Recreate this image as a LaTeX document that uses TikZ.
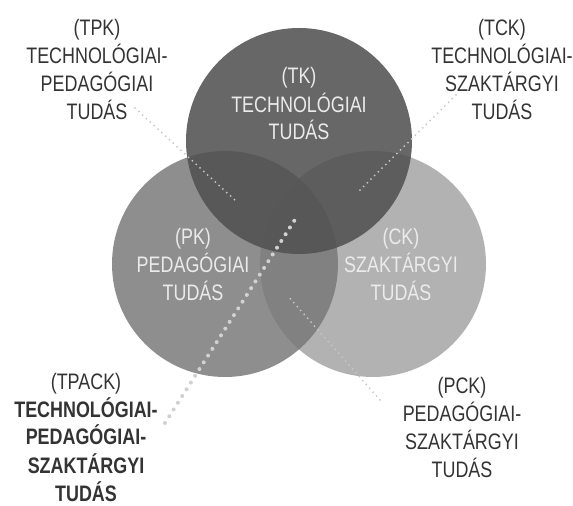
\documentclass[tikz,border=0pt]{standalone}
\usepackage{fontspec}
\setmainfont{Liberation Sans}[FakeStretch=0.8]
\usetikzlibrary{positioning}

\tikzset{
    outtext/.style = {align=center, text=black!80,
        font=\fontsize{11.2}{14}\selectfont},
    intext/.style = {align=center, text=white!92!black,
        font=\fontsize{11.2}{14}\selectfont},
    dotline/.style = {draw=black!22, line width=1pt, line cap=round,
        dash pattern=on 0pt off 2.6pt},
    bigdotline/.style = {draw=black!18, line width=2pt, line cap=round,
        dash pattern=on 0pt off 4pt},
}

\begin{document}
\begin{tikzpicture}[x=0.5pt, y=-0.5pt]
    \useasboundingbox (0,0) rectangle (573,506);
    \pgfmathsetmacro{\R}{56.5}  % circle radius, units of points
    % circle centres
    \coordinate (ckc) at (373,264);
    \coordinate (pkc) at (225,264);
    \coordinate (tkc) at (299,141);
    % the three circles, drawn back to front
    \fill[black!30] (ckc) circle (\R pt);
    \fill[black!53, fill opacity=0.84] (pkc) circle (\R pt);
    \fill[black!68, fill opacity=0.88] (tkc) circle (\R pt);

    % texts inside the circles
    \node[intext] (tk) at (299,104) {(TK)\\TECHNOLÓGIAI\\TUDÁS};
    \node[intext] (pk) at (193,264) {(PK)\\PEDAGÓGIAI\\TUDÁS};
    \node[intext] (ck) at (401,264) {(CK)\\SZAKTÁRGYI\\TUDÁS};

    % texts outside
    \node[outtext] (tpk) at (97,70) {(TPK)\\TECHNOLÓGIAI-\\PEDAGÓGIAI\\TUDÁS};
    \node[outtext] (tck) at (502,70) {(TCK)\\TECHNOLÓGIAI-\\SZAKTÁRGYI\\TUDÁS};
    \node[outtext] (pck) at (462,427) {(PCK)\\PEDAGÓGIAI-\\SZAKTÁRGYI\\TUDÁS};
    \node[outtext] (tpack) at (86,437)
        {(TPACK)\\\textbf{TECHNOLÓGIAI-}\\\textbf{PEDAGÓGIAI-}\\\textbf{SZAKTÁRGYI}\\\textbf{TUDÁS}};

    % where the pointers end
    \coordinate (tpkend) at (237,202);
    \coordinate (tckend) at (357,193);
    \coordinate (pckend) at (287,295);
    \coordinate (tpackend) at (296,218);

    \draw[dotline] ([shift={(38,38)}]tpk.center) -- (tpkend);
    \draw[dotline] ([shift={(-46,25)}]tck.center) -- (tckend);
    \draw[dotline] ([shift={(-82,-27)}]pck.center) -- (pckend);
    \draw[bigdotline] ([shift={(79,-14)}]tpack.center) -- (tpackend);
\end{tikzpicture}
\end{document}
